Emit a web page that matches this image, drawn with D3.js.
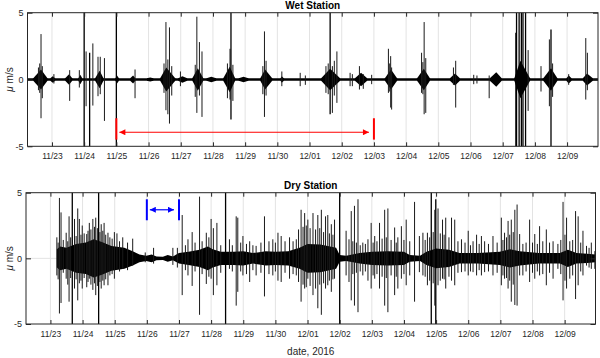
<!DOCTYPE html>
<html>
<head>
<meta charset="utf-8">
<script src="https://cdn.jsdelivr.net/npm/d3@7"></script>
<style>
  body { margin: 0; background: #fff; }
  svg { display: block; font-family: "Liberation Sans", Arial, sans-serif; }
</style>
</head>
<body>
<svg id="chart" width="600" height="358"></svg>
<script>
// times are decimal day-of-November (31 = 12/01, 32 = 12/02 ...)
var tickDays = [23, 24, 25, 26, 27, 28, 29, 30, 31, 32, 33, 34, 35, 36, 37, 38, 39];
var yTicks = [-5, 0, 5];
var timeSpan = [22.24, 39.96];

// wet station: background trace level and bursts [start, peak, end, amplitude]
var wetBase = 0.1;
var wetBursts = [
  [22.42, 22.66, 22.86, 0.75], [22.95, 23.02, 23.10, 0.25], [23.41, 23.53, 23.63, 0.4],
  [23.82, 23.88, 23.94, 0.35], [24.34, 24.48, 24.60, 0.65], [24.97, 25.02, 25.08, 0.3],
  [25.43, 25.52, 25.59, 0.3], [25.95, 26.05, 26.15, 0.15], [26.36, 26.55, 26.83, 0.9],
  [26.92, 27.05, 27.20, 0.25], [27.36, 27.53, 27.70, 0.85], [27.80, 27.95, 28.10, 0.2],
  [28.32, 28.52, 28.69, 0.95], [28.80, 28.95, 29.10, 0.2], [29.47, 29.62, 29.84, 0.75],
  [30.10, 30.14, 30.20, 0.25], [31.36, 31.64, 31.95, 0.8], [32.41, 32.60, 32.79, 0.5],
  [33.34, 33.53, 33.72, 0.75], [34.34, 34.55, 34.74, 0.8], [35.36, 35.52, 35.67, 0.45],
  [36.60, 36.80, 36.97, 0.55], [37.36, 37.55, 37.85, 1.4], [38.26, 38.50, 38.70, 0.85],
  [38.98, 39.05, 39.14, 0.3], [39.49, 39.62, 39.80, 0.45]
];
// wet station spikes [time, max, min]
var wetSpikes = [
  [22.58, 0.9, -0.8], [22.62, 1.2, -1.0], [22.66, 3.4, -2.9], [22.70, 1.0, -1.4],
  [23.06, 0.4, -0.3], [23.55, 0.7, -1.6], [23.85, 0.7, -0.6], [24.00, 6, -6],
  [24.06, 2.1, -2.0], [24.17, 2.0, -6], [24.27, 2.7, -1.95], [24.43, 1.7, -1.25],
  [24.50, 1.7, -1.1], [24.63, 1.6, -3.1], [25.00, 6, -6], [25.58, 0.75, -1.4],
  [26.48, 1.2, -1.0], [26.54, 4.3, -2.3], [26.60, 1.5, -2.6], [26.65, 3.9, -3.3],
  [26.72, 1.0, -1.2], [26.99, 0.6, -0.5], [27.45, 1.1, -1.3], [27.50, 4.7, -2.5],
  [27.58, 2.8, -1.2], [27.66, 2.1, -2.8], [28.45, 1.2, -1.4], [28.53, 2.3, -1.5],
  [28.56, 6, -3.0], [28.62, 1.1, -1.6], [29.55, 1.0, -1.1], [29.60, 3.6, -2.8],
  [29.65, 1.4, -1.2], [30.14, 0.6, -0.5], [30.71, 0.5, -0.5], [30.87, 0.3, -0.4],
  [31.51, 1.0, -1.0], [31.58, 1.2, -1.1], [31.64, 6, -2.6], [31.71, 1.0, -2.5],
  [31.77, 1.4, -1.2], [31.85, 2.1, -1.75], [32.26, 0.5, -0.5], [32.33, 0.4, -0.5],
  [32.55, 1.0, -0.75], [32.67, 0.4, -0.7], [32.93, 0.35, -0.35], [33.45, 2.3, -1.0],
  [33.49, 1.2, -0.9], [33.52, 1.75, -2.1], [33.55, 0.9, -2.25], [34.48, 2.0, -1.0],
  [34.52, 1.3, -1.1], [34.56, 4.3, -2.6], [34.61, 1.6, -2.5], [35.47, 0.9, -0.4],
  [35.54, 1.4, -2.1], [36.10, 0.35, -0.35], [36.20, 0.3, -0.3], [36.58, 0.3, -1.4],
  [37.41, 3.5, -6], [37.43, 6, -6], [37.51, 6, -6], [37.58, 6, -6], [37.63, 6, -6],
  [37.71, 6, -6], [37.79, 2.2, -2.35], [38.19, 1.0, -0.9], [38.45, 3.0, -2.0],
  [38.50, 3.75, -6], [38.55, 1.2, -1.3], [39.05, 0.4, -0.4], [39.58, 3.1, -1.5],
  [39.63, 2.0, -0.8]
];

// dry station: envelope of the dense trace [time, amplitude]
var dryEnvelope = [
  [23.20, 0.7], [23.30, 0.9], [23.50, 0.8], [23.80, 1.1], [24.10, 1.2], [24.35, 1.45],
  [24.60, 1.25], [24.90, 0.95], [25.30, 0.8], [25.56, 0.55], [25.77, 0.3], [25.98, 0.2],
  [26.15, 0.3], [26.30, 0.15], [26.50, 0.12], [26.65, 0.25], [26.81, 0.15], [27.00, 0.4],
  [27.30, 0.5], [27.64, 0.65], [27.90, 0.9], [28.05, 0.7], [28.30, 0.5], [28.70, 0.5],
  [29.00, 0.55], [29.30, 0.4], [29.70, 0.55], [30.00, 0.5], [30.40, 0.55], [30.75, 0.8],
  [31.00, 1.1], [31.40, 1.05], [31.89, 0.8], [32.00, 0.25], [32.20, 0.2], [32.62, 0.4],
  [33.00, 0.5], [33.50, 0.55], [34.00, 0.5], [34.18, 0.25], [34.50, 0.2], [34.70, 0.5],
  [35.00, 0.75], [35.40, 0.65], [35.73, 0.4], [36.30, 0.4], [36.98, 0.5], [37.30, 0.7],
  [37.60, 0.55], [38.20, 0.4], [38.85, 0.4], [39.10, 0.65], [39.37, 0.4], [39.70, 0.35],
  [39.95, 0.3]
];
// dry station spikes [time, max, min]
var drySpikes = [
  [23.20, 1.6, -1.3], [23.24, 1.2, -1.6], [23.28, 4.6, -4.2], [23.33, 3.5, -3.4],
  [23.40, 1.4, -1.1], [23.49, 1.95, -1.55], [23.54, 1.3, -2.0], [23.58, 3.2, -3.3],
  [23.63, 1.6, -1.5], [23.68, 6, -6], [23.75, 3.0, -2.3], [23.80, 1.7, -1.6],
  [23.85, 3.8, -3.2], [23.90, 3.0, -1.9], [23.95, 1.8, -1.7], [23.99, 2.5, -2.3],
  [24.05, 1.9, -1.5], [24.13, 1.85, -2.2], [24.17, 2.1, -1.8], [24.21, 2.7, -1.55],
  [24.26, 2.2, -2.0], [24.32, 3.0, -2.4], [24.37, 2.4, -1.9], [24.41, 3.1, -2.8],
  [24.46, 2.3, -2.1], [24.50, 6, -6], [24.54, 2.0, -1.8], [24.58, 2.6, -2.3],
  [24.63, 2.1, -1.7], [24.67, 2.7, -2.05], [24.72, 1.8, -1.6], [24.79, 1.95, -2.05],
  [24.85, 1.6, -1.3], [24.92, 1.5, -1.2], [24.99, 2.0, -1.55], [25.07, 1.9, -0.8],
  [25.15, 1.3, -1.0], [25.25, 1.6, -0.8], [25.40, 1.2, -0.9], [25.56, 1.5, -0.55],
  [25.95, 0.45, -0.3], [26.21, 0.8, -0.4], [26.81, 0.8, -0.5], [26.95, 0.8, -0.7],
  [27.10, 3.3, -2.8], [27.20, 1.0, -0.9], [27.28, 1.45, -1.3], [27.41, 2.0, -2.1],
  [27.50, 1.2, -1.0], [27.64, 4.7, -4.3], [27.72, 1.3, -1.2], [27.85, 1.95, -1.95],
  [27.93, 1.6, -1.4], [28.00, 3.0, -1.55], [28.07, 2.3, -2.8], [28.18, 2.7, -2.05],
  [28.30, 1.0, -1.1], [28.45, 6, -6], [28.57, 1.45, -0.8], [28.66, 1.0, -1.0],
  [28.78, 3.2, -3.6], [28.83, 3.1, -2.55], [28.92, 1.2, -1.0], [28.99, 1.7, -1.3],
  [29.10, 1.1, -1.2], [29.20, 1.3, -1.8], [29.30, 1.0, -0.9], [29.40, 0.95, -1.3],
  [29.55, 1.2, -1.1], [29.66, 3.2, -2.9], [29.80, 1.3, -1.2], [29.92, 1.45, -1.3],
  [30.00, 1.2, -1.0], [30.08, 1.95, -1.7], [30.18, 1.7, -1.8], [30.30, 1.3, -1.1],
  [30.44, 1.6, -1.55], [30.55, 1.3, -1.2], [30.65, 1.45, -1.3], [30.72, 2.2, -1.8],
  [30.80, 3.7, -3.3], [30.86, 2.4, -2.0], [30.91, 3.45, -2.3], [30.96, 2.5, -2.2],
  [31.01, 2.95, -1.55], [31.08, 2.3, -2.1], [31.17, 3.45, -2.8], [31.25, 2.2, -2.3],
  [31.32, 3.3, -3.8], [31.38, 2.3, -2.0], [31.43, 3.7, -4.3], [31.50, 2.0, -1.9],
  [31.56, 3.2, -2.3], [31.63, 3.3, -2.05], [31.68, 1.9, -1.7], [31.74, 2.6, -2.55],
  [31.79, 1.8, -1.6], [31.84, 2.95, -1.55], [32.00, 6, -6], [32.20, 2.1, -1.3],
  [32.29, 1.45, -1.8], [32.36, 3.6, -3.2], [32.41, 1.3, -1.2], [32.46, 4.0, -3.6],
  [32.52, 1.2, -1.1], [32.57, 4.5, -4.1], [32.64, 1.0, -1.0], [32.72, 1.2, -1.3],
  [32.80, 1.1, -1.0], [32.88, 1.45, -1.7], [32.98, 2.7, -2.3], [33.04, 1.2, -1.3],
  [33.09, 1.7, -1.55], [33.16, 1.3, -1.2], [33.24, 2.7, -2.3], [33.32, 1.5, -1.4],
  [33.40, 3.7, -3.6], [33.45, 1.6, -1.5], [33.50, 3.8, -4.1], [33.60, 1.4, -1.3],
  [33.71, 2.35, -2.8], [33.76, 1.2, -1.4], [33.81, 1.6, -2.3], [33.92, 2.45, -1.55],
  [34.00, 1.4, -1.2], [34.07, 2.95, -2.05], [34.18, 1.3, -1.3], [34.33, 4.3, -3.3],
  [34.48, 1.7, -1.05], [34.59, 1.95, -1.3], [34.66, 1.4, -1.4], [34.73, 1.95, -2.05],
  [34.80, 1.6, -1.7], [34.85, 6, -6], [34.91, 2.0, -1.9], [34.96, 3.7, -3.6],
  [34.99, 4.5, -6], [35.06, 3.8, -2.05], [35.13, 1.9, -1.7], [35.20, 2.95, -1.55],
  [35.25, 1.8, -1.6], [35.30, 3.1, -2.3], [35.40, 1.6, -1.4], [35.48, 3.1, -1.7],
  [35.58, 2.95, -2.05], [35.68, 1.3, -1.1], [35.79, 1.45, -1.05], [35.90, 1.2, -1.0],
  [36.00, 2.1, -1.3], [36.07, 1.0, -1.0], [36.15, 1.3, -1.05], [36.26, 1.8, -1.3],
  [36.34, 1.1, -0.9], [36.41, 1.7, -1.3], [36.51, 1.3, -1.05], [36.63, 1.1, -1.0],
  [36.77, 1.7, -1.3], [36.90, 1.2, -1.1], [37.03, 3.1, -2.05], [37.08, 1.4, -1.3],
  [37.13, 1.95, -1.55], [37.19, 1.6, -1.5], [37.24, 2.85, -2.3], [37.29, 1.8, -1.7],
  [37.34, 2.95, -3.3], [37.40, 2.0, -2.0], [37.45, 3.7, -3.55], [37.52, 4.1, -3.6],
  [37.60, 1.85, -1.3], [37.70, 1.1, -1.3], [37.80, 1.2, -1.0], [37.91, 2.95, -1.8],
  [38.00, 1.2, -1.1], [38.07, 1.85, -1.55], [38.15, 1.1, -1.0], [38.22, 2.45, -1.3],
  [38.32, 1.3, -1.2], [38.43, 2.2, -2.05], [38.53, 1.2, -1.1], [38.64, 1.3, -1.55],
  [38.79, 1.1, -0.8], [38.88, 1.4, -1.2], [38.95, 4.3, -3.2], [39.01, 1.8, -1.7],
  [39.06, 3.1, -2.3], [39.16, 1.3, -1.55], [39.25, 1.4, -1.3], [39.34, 3.6, -3.1],
  [39.42, 3.2, -2.05], [39.50, 1.2, -1.0], [39.57, 2.1, -1.3], [39.68, 0.95, -0.55],
  [39.76, 0.8, -0.7], [39.83, 1.2, -0.8], [39.94, 0.55, -0.8]
];

// annotations: [time of bar 1, time of bar 2], bar from/to, arrow level
var wetMarkDays = [25, 33];
var wetMarkSpan = [-4.5, -2.9, -3.95];
var dryMarkDays = [26, 27];
var dryMarkSpan = [2.9, 4.5, 3.7];

function toDate(d) {
  return new Date(Date.UTC(2016, 10, 1) + (d - 1) * 864e5);
}

var svg = d3.select("#chart");
var fmt = d3.utcFormat("%m/%d");

var defs = svg.append("defs");
[["red", "#ff0000"], ["blue", "#0000ff"]].forEach(function (c) {
  defs.append("marker")
    .attr("id", "head-" + c[0])
    .attr("viewBox", "0 0 10 10")
    .attr("refX", 10).attr("refY", 5)
    .attr("markerWidth", 7).attr("markerHeight", 6)
    .attr("markerUnits", "userSpaceOnUse")
    .attr("orient", "auto-start-reverse")
    .append("path")
    .attr("d", "M0,0L10,5L0,10z")
    .attr("fill", c[1]);
});

function panel(opt) {
  var x = d3.scaleUtc().domain(timeSpan.map(toDate)).range([opt.left, opt.right]);
  var y = d3.scaleLinear().domain([-5, 5]).range([opt.bottom, opt.top]);
  var g = svg.append("g");

  defs.append("clipPath").attr("id", opt.id + "-clip")
    .append("rect")
    .attr("x", opt.left).attr("y", opt.top)
    .attr("width", opt.right - opt.left).attr("height", opt.bottom - opt.top);

  // grid
  g.selectAll(".grid").data(tickDays).enter().append("line")
    .attr("x1", d => x(toDate(d))).attr("x2", d => x(toDate(d)))
    .attr("y1", opt.top).attr("y2", opt.bottom)
    .attr("stroke", "#e3e3e3").attr("stroke-width", 1);

  g.append("line")
    .attr("x1", opt.left).attr("x2", opt.right)
    .attr("y1", y(0)).attr("y2", y(0))
    .attr("stroke", "#e3e3e3");

  var data = g.append("g").attr("clip-path", "url(#" + opt.id + "-clip)");

  var area = d3.area()
    .x(d => x(toDate(d[0])))
    .y0(d => y(-d[1]))
    .y1(d => y(d[1]));

  if (opt.base) {
    data.append("path")
      .attr("d", area([[timeSpan[0], opt.base], [timeSpan[1], opt.base]]))
      .attr("fill", "#000");
  }
  if (opt.bursts) {
    data.selectAll(".burst").data(opt.bursts).enter().append("path")
      .attr("d", b => area([[b[0], opt.base], [b[1], b[3]], [b[2], opt.base]]))
      .attr("fill", "#000");
  }
  if (opt.envelope) {
    data.append("path")
      .attr("d", area(opt.envelope))
      .attr("fill", "#000");
  }

  data.selectAll(".spike").data(opt.spikes).enter().append("line")
    .attr("x1", d => x(toDate(d[0]))).attr("x2", d => x(toDate(d[0])))
    .attr("y1", d => y(d[1])).attr("y2", d => y(d[2]))
    .attr("stroke", d => (d[1] > 5 || d[2] < -5) ? "#000" : "#1a1a1a")
    .attr("stroke-width", d => (d[1] > 5 || d[2] < -5) ? 1.3 : 1);

  // box
  g.append("rect")
    .attr("x", opt.left).attr("y", opt.top)
    .attr("width", opt.right - opt.left).attr("height", opt.bottom - opt.top)
    .attr("fill", "none").attr("stroke", "#262626").attr("stroke-width", 1);

  // x ticks (inward) + labels
  var xa = d3.axisBottom(x)
    .tickValues(tickDays.map(toDate))
    .tickFormat(fmt)
    .tickSizeInner(-4).tickSizeOuter(0).tickPadding(7);
  var gx = g.append("g").attr("transform", "translate(0," + opt.bottom + ")").call(xa);
  gx.select(".domain").remove();
  gx.selectAll("line").attr("stroke", "#262626");
  gx.selectAll("text").attr("font-size", 8.5).attr("fill", "#262626")
    .attr("font-family", "'Liberation Sans', Arial, sans-serif");

  var xt = d3.axisTop(x).tickValues(tickDays.map(toDate)).tickFormat("")
    .tickSizeInner(-4).tickSizeOuter(0);
  var gxt = g.append("g").attr("transform", "translate(0," + opt.top + ")").call(xt);
  gxt.select(".domain").remove();
  gxt.selectAll("line").attr("stroke", "#262626");

  // y ticks
  var ya = d3.axisLeft(y).tickValues(yTicks).tickFormat(d3.format("d"))
    .tickSizeInner(-5).tickSizeOuter(0).tickPadding(4);
  var gy = g.append("g").attr("transform", "translate(" + opt.left + ",0)").call(ya);
  gy.select(".domain").remove();
  gy.selectAll("line").attr("stroke", "#262626");
  gy.selectAll("text").attr("font-size", 9).attr("fill", "#262626")
    .attr("font-family", "'Liberation Sans', Arial, sans-serif")
    .text(d => d < 0 ? "-" + Math.abs(d) : d);

  var yr = d3.axisRight(y).tickValues(yTicks).tickFormat("")
    .tickSizeInner(-5).tickSizeOuter(0);
  var gyr = g.append("g").attr("transform", "translate(" + opt.right + ",0)").call(yr);
  gyr.select(".domain").remove();
  gyr.selectAll("line").attr("stroke", "#262626");

  // title
  g.append("text")
    .attr("x", (opt.left + opt.right) / 2).attr("y", opt.top - 4)
    .attr("text-anchor", "middle")
    .attr("font-size", 10).attr("font-weight", "bold").attr("fill", "#000")
    .text(opt.title);

  // y label
  var yl = g.append("text")
    .attr("transform", "translate(13," + y(0) + ") rotate(-90)")
    .attr("text-anchor", "middle")
    .attr("font-size", 10).attr("fill", "#262626");
  yl.append("tspan").attr("font-style", "italic").text("\u03bc");
  yl.append("tspan").text(" m/s");

  // annotation
  var m = opt.mark;
  g.selectAll(".bar").data(m.days).enter().append("line")
    .attr("x1", d => x(toDate(d))).attr("x2", d => x(toDate(d)))
    .attr("y1", y(m.span[0])).attr("y2", y(m.span[1]))
    .attr("stroke", m.color).attr("stroke-width", 2);
  g.append("line")
    .attr("x1", x(toDate(m.days[0])) + 3).attr("x2", x(toDate(m.days[1])) - 5)
    .attr("y1", y(m.span[2])).attr("y2", y(m.span[2]))
    .attr("stroke", m.color).attr("stroke-width", 1.2)
    .attr("marker-start", "url(#head-" + m.name + ")")
    .attr("marker-end", "url(#head-" + m.name + ")");

  return { x: x, y: y };
}

panel({
  id: "wet", title: "Wet Station",
  left: 27.5, right: 598, top: 12.7, bottom: 146.3,
  base: wetBase, bursts: wetBursts, spikes: wetSpikes,
  mark: { days: wetMarkDays, span: wetMarkSpan, color: "#ff0000", name: "red" }
});

panel({
  id: "dry", title: "Dry Station",
  left: 26, right: 595.5, top: 192.7, bottom: 324,
  envelope: dryEnvelope, spikes: drySpikes,
  mark: { days: dryMarkDays, span: dryMarkSpan, color: "#0000ff", name: "blue" }
});

svg.append("text")
  .attr("x", 310.75).attr("y", 355)
  .attr("text-anchor", "middle")
  .attr("font-size", 10).attr("fill", "#262626")
  .text("date, 2016");
</script>
</body>
</html>
